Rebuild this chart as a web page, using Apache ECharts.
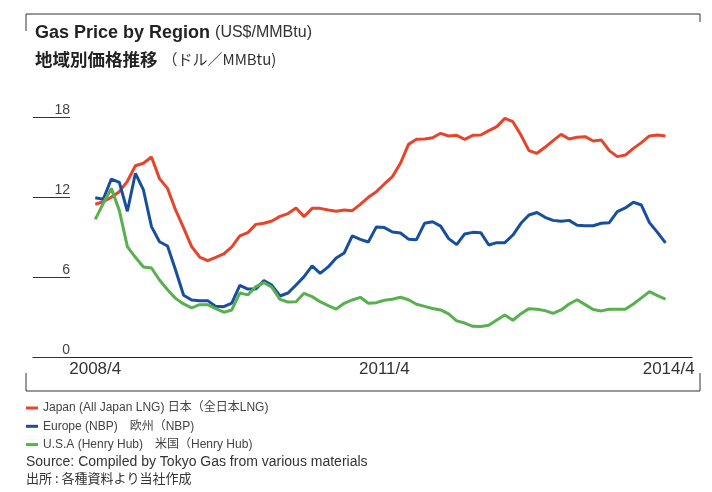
<!DOCTYPE html>
<html>
<head>
<meta charset="utf-8">
<script src="https://cdn.jsdelivr.net/npm/echarts@6/dist/echarts.min.js"></script>
<style>
  html, body { margin: 0; padding: 0; background: #fff; }
  #chart { width: 712px; height: 492px; }
</style>
</head>
<body>
<div id="chart"></div>
<script>
  // Monthly prices from 2008/4 (index 0) to 2014/3 (index 71), US$/MMBtu.
  const japan = [
    11.48, 11.67, 12.0, 12.42, 13.2, 14.37, 14.55, 15.02, 13.4, 12.67, 11.05, 9.7,
    8.3, 7.52, 7.25, 7.5, 7.76, 8.28, 9.1, 9.35, 9.97, 10.05, 10.22, 10.57,
    10.78, 11.2, 10.55, 11.17, 11.17, 11.05, 10.96, 11.05, 11.0, 11.47, 12.0, 12.42,
    13.0, 13.55, 14.55, 15.97, 16.35, 16.37, 16.47, 16.8, 16.6, 16.65, 16.35, 16.65,
    16.67, 17.0, 17.3, 17.92, 17.67, 16.67, 15.5, 15.3, 15.75, 16.25, 16.72, 16.37,
    16.5, 16.55, 16.22, 16.3, 15.5, 15.05, 15.17, 15.67, 16.1, 16.6, 16.67, 16.6
  ];
  const europe = [
    11.97, 11.85, 13.37, 13.12, 10.95, 13.8, 12.55, 9.8, 8.67, 8.35, 6.55, 4.65,
    4.3, 4.25, 4.25, 3.82, 3.8, 4.07, 5.4, 5.12, 5.13, 5.75, 5.4, 4.6,
    4.82, 5.42, 6.05, 6.85, 6.3, 6.78, 7.45, 7.83, 9.1, 8.85, 8.65, 9.78,
    9.73, 9.4, 9.32, 8.86, 8.82, 10.05, 10.17, 9.84, 8.9, 8.45, 9.25, 9.37,
    9.35, 8.42, 8.6, 8.6, 9.17, 10.05, 10.67, 10.86, 10.5, 10.27, 10.2, 10.27,
    9.9, 9.87, 9.87, 10.05, 10.1, 10.92, 11.2, 11.63, 11.42, 10.1, 9.37, 8.58
  ];
  const usa = [
    10.35, 11.55, 12.67, 11.0, 8.3, 7.5, 6.77, 6.7, 5.8, 5.07, 4.42, 4.0,
    3.7, 3.95, 3.95, 3.65, 3.38, 3.55, 4.82, 4.68, 5.3, 5.6, 5.25, 4.35,
    4.15, 4.17, 4.8, 4.55, 4.17, 3.88, 3.62, 4.05, 4.3, 4.5, 4.05, 4.1,
    4.28, 4.36, 4.5, 4.32, 3.98, 3.82, 3.66, 3.55, 3.25, 2.73, 2.57, 2.32,
    2.31, 2.4, 2.8, 3.17, 2.78, 3.27, 3.65, 3.6, 3.5, 3.3, 3.55, 4.0,
    4.32, 3.95, 3.58, 3.48, 3.6, 3.6, 3.6, 4.0, 4.46, 4.92, 4.63, 4.37
  ];
  const seriesNames = [
    'Japan (All Japan LNG) 日本（全日本LNG)',
    'Europe (NBP)　欧州（NBP)',
    'U.S.A (Henry Hub)　米国（Henry Hub)'
  ];
  const seriesColors = ['#e6452b', '#174f9e', '#58b04e'];
  const xTickLabels = ['2008/4', '2011/4', '2014/4'];
  const xTickPos = [0, 36, 71.4];

  const FONT = "'Liberation Sans', 'Noto Sans CJK JP', sans-serif";
  const CJK = "'Noto Sans CJK JP', 'Liberation Sans', sans-serif";

  function toPoints(arr) {
    return arr.map((v, i) => [i, v]);
  }

  const option = {
    animation: false,
    textStyle: { fontFamily: FONT },
    title: [
      {
        left: 30, top: 19,
        text: '{b|Gas Price by Region} {r|(US$/MMBtu)}',
        textStyle: {
          rich: {
            b: { fontFamily: FONT, fontSize: 18, fontWeight: 'bold', color: '#222' },
            r: { fontFamily: FONT, fontSize: 16, fontWeight: 'normal', color: '#333' }
          }
        }
      },
      {
        left: 30, top: 45,
        text: '{b|地域別価格推移} {r|（ドル／MMBtu)}',
        textStyle: {
          rich: {
            b: { fontFamily: CJK, fontSize: 17.5, fontWeight: 'bold', color: '#222' },
            r: { fontFamily: CJK, fontSize: 15, fontWeight: 'normal', color: '#333' }
          }
        }
      }
    ],
    legend: {
      orient: 'vertical',
      left: 21, top: 396,
      icon: 'rect',
      itemWidth: 12, itemHeight: 3,
      itemGap: 4.3,
      textStyle: { fontFamily: FONT, fontSize: 12, color: '#444', lineHeight: 14 },
      data: seriesNames
    },
    grid: { left: 33, right: 20, top: 117.3, height: 240 },
    xAxis: {
      type: 'value',
      min: -7.75, max: 74.3,
      axisLine: { show: true, lineStyle: { color: '#222', width: 1.2 } },
      axisTick: { show: false },
      splitLine: { show: false },
      axisLabel: {
        customValues: xTickPos,
        formatter: v => xTickLabels[xTickPos.indexOf(v)] || '',
        fontSize: 17, color: '#333', margin: 4
      }
    },
    yAxis: {
      type: 'value',
      min: 0, max: 18, interval: 6,
      axisLine: { show: false, onZero: false },
      axisTick: { show: true, inside: true, length: 37, lineStyle: { color: '#333', width: 1 } },
      splitLine: { show: false },
      axisLabel: {
        inside: true, align: 'right', verticalAlign: 'bottom', margin: 37,
        fontSize: 14, color: '#444', padding: 0
      }
    },
    series: [japan, europe, usa].map((arr, k) => ({
      name: seriesNames[k],
      type: 'line',
      data: toPoints(arr),
      showSymbol: false,
      lineStyle: { width: 3, color: seriesColors[k] },
      itemStyle: { color: seriesColors[k] }
    })),
    graphic: [
      { type: 'polyline', shape: { points: [[26, 31], [26, 14], [700, 14], [700, 22]] },
        style: { stroke: '#333', lineWidth: 1, fill: null } },
      { type: 'polyline', shape: { points: [[26, 373], [26, 391], [700, 391], [700, 373]] },
        style: { stroke: '#333', lineWidth: 1, fill: null } },
      { type: 'text', left: 26, top: 455,
        style: { text: 'Source: Compiled by Tokyo Gas from various materials', font: '14px ' + FONT, fill: '#333' } },
      { type: 'text', left: 26, top: 472,
        style: { text: '出所 : 各種資料より当社作成', font: '13px ' + CJK, fill: '#333' } }
    ]
  };

  echarts.init(document.getElementById('chart')).setOption(option);
</script>
</body>
</html>
